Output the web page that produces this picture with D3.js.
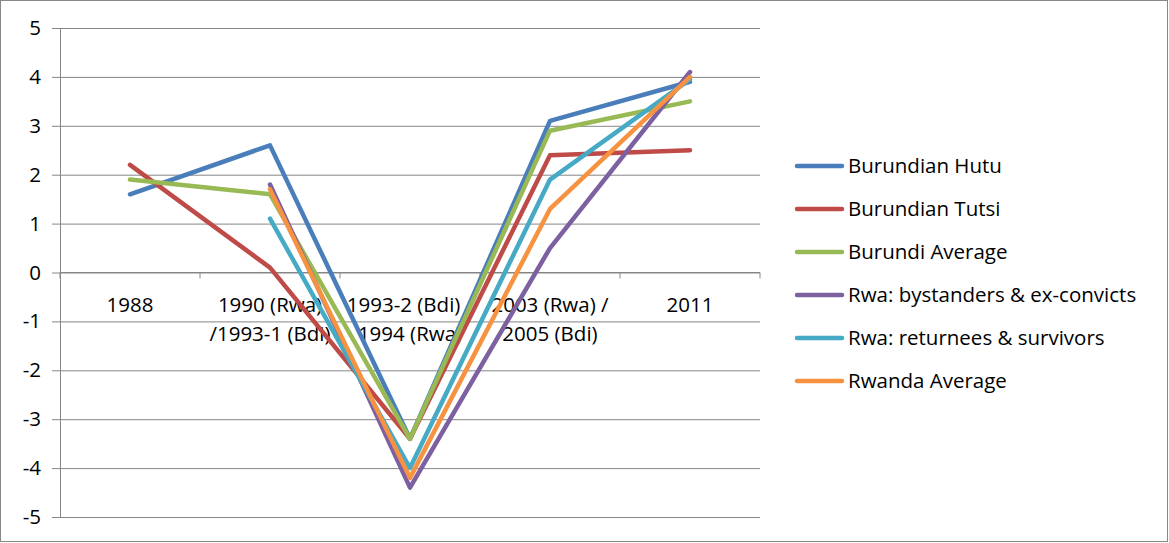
<!DOCTYPE html>
<html><head><meta charset="utf-8">
<script src="https://cdn.jsdelivr.net/npm/d3@7"></script>
<style>body{margin:0;background:#fff}svg{display:block}</style>
</head><body>
<svg id="c" width="1169" height="543"></svg>
<script>
const categories = [["1988"],["1990 (Rwa)","/1993-1 (Bdi)"],["1993-2 (Bdi) /","1994 (Rwa)"],["2003 (Rwa) /","2005 (Bdi)"],["2011"]];
const seriesNames = ["Burundian Hutu","Burundian Tutsi","Burundi Average","Rwa: bystanders & ex-convicts","Rwa: returnees & survivors","Rwanda Average"];
const burundianHutu = [1.6, 2.6, -3.4, 3.1, 3.9];
const burundianTutsi = [2.2, 0.1, -3.4, 2.4, 2.5];
const burundiAverage = [1.9, 1.6, -3.4, 2.9, 3.5];
const rwaBystanders = [null, 1.8, -4.4, 0.5, 4.1];
const rwaReturnees = [null, 1.1, -4.0, 1.9, 3.95];
const rwandaAverage = [null, 1.7, -4.2, 1.3, 4.0];
const yTicks = [5,4,3,2,1,0,-1,-2,-3,-4,-5];
const colors = ["#4A7EBB","#BE4B48","#98B954","#7D60A0","#46AAC5","#F69240"];
const allSeries = [burundianHutu,burundianTutsi,burundiAverage,rwaBystanders,rwaReturnees,rwandaAverage];

const svg = d3.select("#c");
const font = "'Open Sans', sans-serif";
const fs = 20.5;
svg.append("rect").attr("x",0.5).attr("y",0.5).attr("width",1167).attr("height",541)
  .attr("fill","#fff").attr("stroke","#888");

const L=60,R=760,T=28,B=517;
const x = d3.scaleBand().domain(d3.range(categories.length)).range([L,R]);
const y = d3.scaleLinear().domain([-5,5]).range([B,T]);

const yAxis = d3.axisLeft(y).tickValues(yTicks).tickSize(8).tickFormat(d3.format("d"));
const gy = svg.append("g").attr("transform",`translate(${L},0)`).call(yAxis);
gy.select(".domain").attr("stroke","#868686").attr("d",`M0.5,${T}V${B}`);
gy.selectAll(".tick line").attr("stroke","#868686").attr("x2",-8).attr("x1",R-L);
gy.selectAll(".tick text").attr("x",-19).attr("font-family",font).attr("font-size",fs).attr("fill","#000")
  .text(d=>d<0?"-"+Math.abs(d):d);

const gx = svg.append("g").attr("transform",`translate(0,${y(0)})`);
gx.append("line").attr("x1",L).attr("x2",R).attr("stroke","#868686");
const boundaries = d3.range(categories.length+1).map(i=>L+i*x.step());
gx.selectAll(".tk").data(boundaries).enter().append("line")
  .attr("x1",d=>d).attr("x2",d=>d).attr("y1",0).attr("y2",6).attr("stroke","#868686");
categories.forEach((lines,i)=>{
  const t = gx.append("text").attr("text-anchor","middle").attr("font-family",font).attr("font-size",fs).attr("fill","#000");
  lines.forEach((s,j)=>t.append("tspan").attr("x",x(i)+x.bandwidth()/2).attr("y",39+j*29).text(s));
});

const line = d3.line().defined(d=>d!=null).x((d,i)=>x(i)+x.bandwidth()/2).y(d=>y(d));
allSeries.forEach((s,k)=>{
  svg.append("path").datum(s).attr("d",line).attr("fill","none").attr("stroke",colors[k])
    .attr("stroke-width",4.5).attr("stroke-linecap","round").attr("stroke-linejoin","round");
});

const lg = svg.append("g");
seriesNames.forEach((n,k)=>{
  const yy = 166 + k*43;
  lg.append("line").attr("x1",797).attr("x2",842).attr("y1",yy).attr("y2",yy)
    .attr("stroke",colors[k]).attr("stroke-width",4.5).attr("stroke-linecap","round");
  lg.append("text").attr("x",848).attr("y",yy+7).attr("font-family",font).attr("font-size",fs).attr("fill","#000").text(n);
});
</script>
</body></html>
